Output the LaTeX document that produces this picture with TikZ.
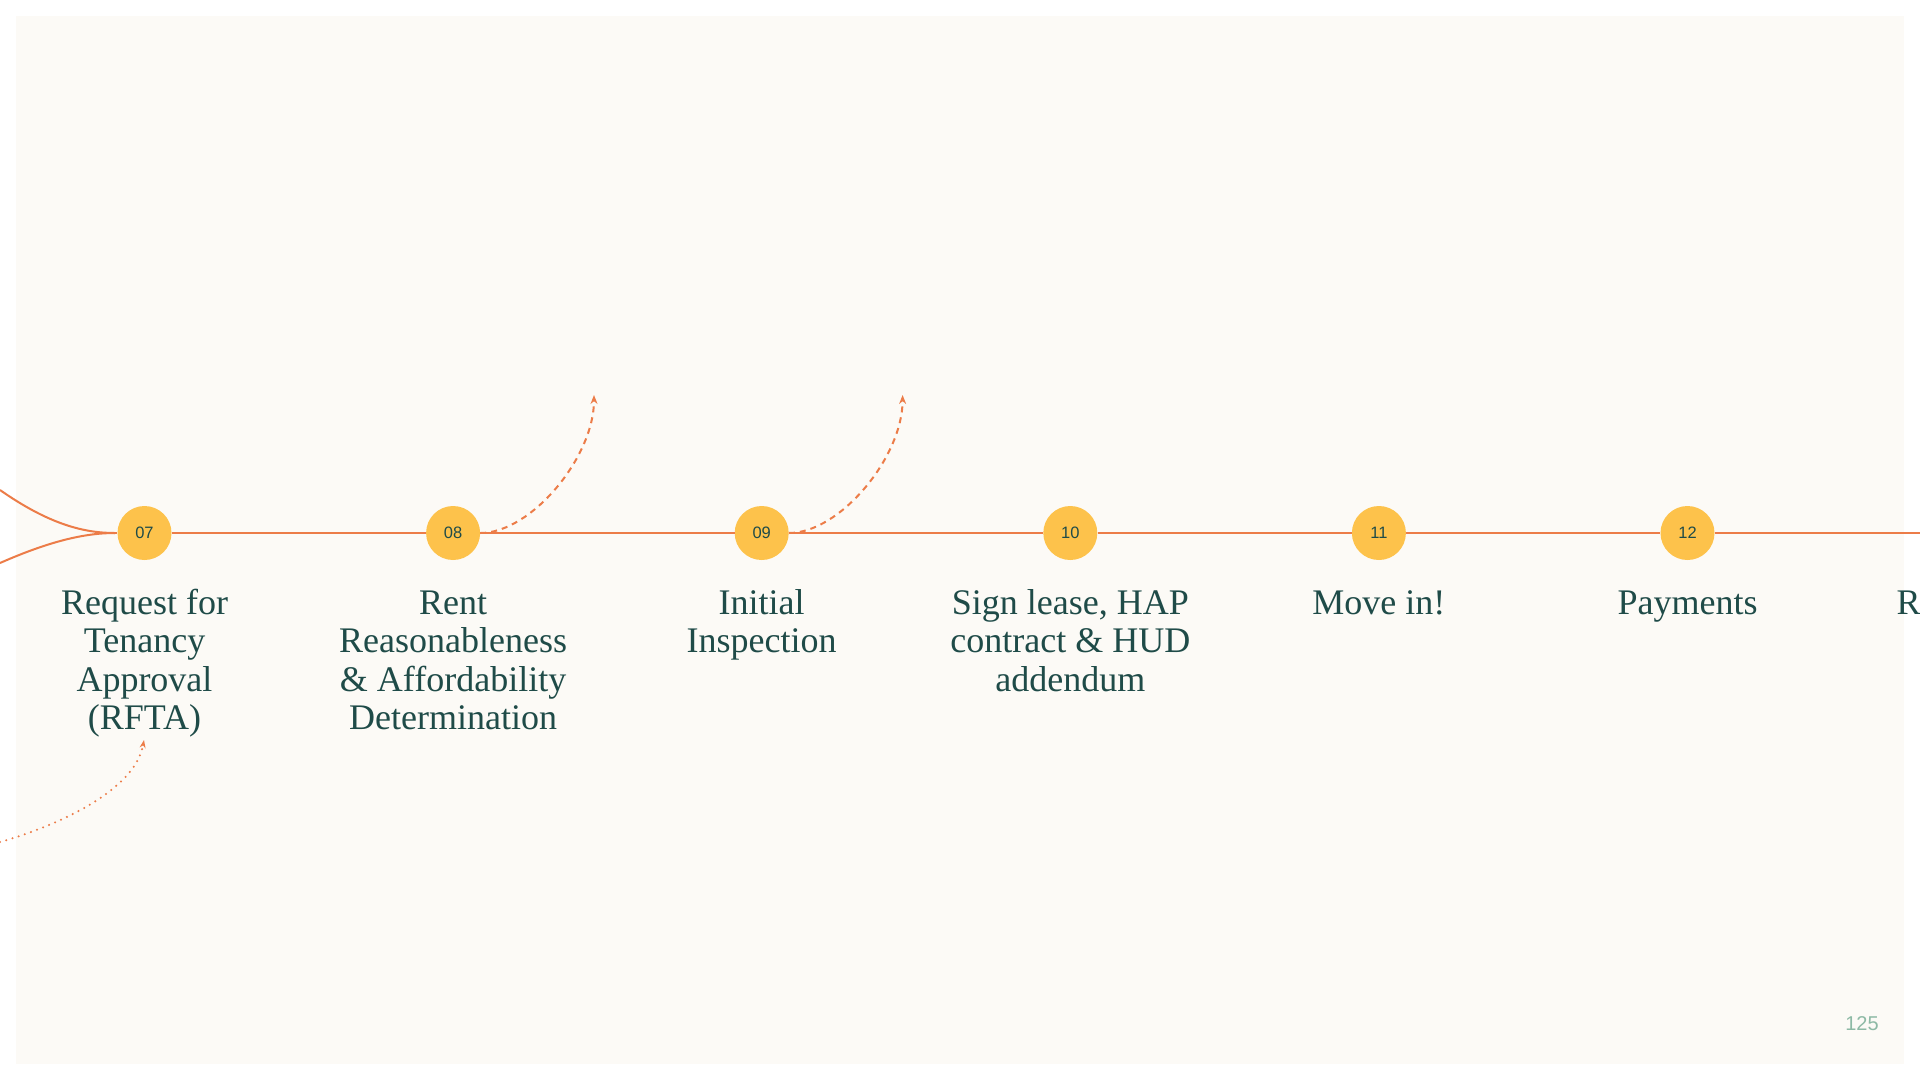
\documentclass[tikz,border=0pt]{standalone}
\usepackage{fontspec}
\setmainfont{Liberation Serif}
\newfontfamily\numfont{Liberation Sans}
\usetikzlibrary{arrows.meta}
\definecolor{cream}{HTML}{FCFAF6}
\definecolor{tealtxt}{HTML}{1F4B48}
\definecolor{orangeln}{HTML}{EC7C48}
\definecolor{yellowc}{HTML}{FDC24B}
\definecolor{pagenum}{HTML}{8DB9A5}
\begin{document}
\begin{tikzpicture}[x=1pt,y=-1pt,
  stepcirc/.style={circle,fill=yellowc,minimum size=54pt,inner sep=0pt,font=\numfont\fontsize{16.5}{16.5}\selectfont,text=tealtxt},
  steplabel/.style={anchor=base,align=center,inner sep=0pt,font=\fontsize{36}{38.5}\selectfont,text=tealtxt},
  mainline/.style={draw=orangeln,line width=2pt},
  dasharrow/.style={draw=orangeln,line width=2pt,dash pattern=on 6pt off 5pt,-{Stealth[length=9pt,width=7pt]}},
  dotarrow/.style={draw=orangeln,line width=2.3pt,line cap=round,dash pattern=on 0pt off 6.5pt,-{Stealth[length=8pt,width=6pt]}},
]
\useasboundingbox (0,0) rectangle (1920,1080);
\fill[white] (0,0) rectangle (1920,1080);
\fill[cream] (16,16) rectangle (1904,1064);

% step circles
\node[stepcirc] (c07) at (144.5,533) {07};
\node[stepcirc] (c08) at (453.1,533) {08};
\node[stepcirc] (c09) at (761.7,533) {09};
\node[stepcirc] (c10) at (1070.3,533) {10};
\node[stepcirc] (c11) at (1378.9,533) {11};
\node[stepcirc] (c12) at (1687.5,533) {12};

% converging lines on the left
\coordinate (m) at (115,533);
\coordinate (u0) at (0,490);
\coordinate (l0) at (0,563);
\coordinate (e) at (1920,533);
\draw[mainline] (u0) .. controls (50,525) and (85,533) .. (m);
\draw[mainline] (l0) .. controls (50,541) and (85,533) .. (m);
\draw[mainline] (m) -- (c07) -- (c08) -- (c09) -- (c10) -- (c11) -- (c12) -- (e);

% dashed arrows
\coordinate (t08) at (594,395);
\coordinate (t09) at (902.6,395);
\draw[dasharrow] (c08.east) .. controls +(51,0) and +(0,62) .. (t08);
\draw[dasharrow] (c09.east) .. controls +(51,0) and +(0,62) .. (t09);

% labels (base anchor = baseline of last line; first baseline at y=614, line step 38.5)
\node[steplabel] (l07) at (144.5,729.5) {Request for\\Tenancy\\Approval\\(RFTA)};
\node[steplabel] (l08) at (453.1,729.5) {Rent\\Reasonableness\\\& Affordability\\Determination};
\node[steplabel] (l09) at (761.7,652.5) {Initial\\Inspection};
\node[steplabel] (l10) at (1070.3,691) {Sign lease, HAP\\contract \& HUD\\addendum};
\node[steplabel] (l11) at (1378.9,614) {Move in!};
\node[steplabel] (l12) at (1687.5,614) {Payments};
\node[steplabel,anchor=base west] (l13) at (1896.5,614) {Re};

% dotted arrow into RFTA
\coordinate (d0) at (0,842);
\coordinate (d1) at (144,740);
\draw[dotarrow] (d0) .. controls (60,825) and (135,790) .. (d1);

% page number
\node[font=\numfont\fontsize{20}{20}\selectfont,text=pagenum,anchor=base,inner sep=0pt] (pg) at (1862,1030.5) {125};
\end{tikzpicture}
\end{document}
